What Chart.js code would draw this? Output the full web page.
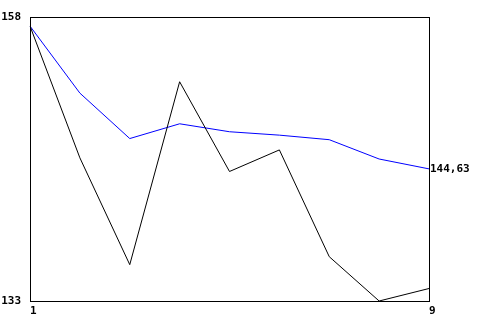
<!DOCTYPE html>
<html>
<head>
<meta charset="utf-8">
<script src="https://cdn.jsdelivr.net/npm/chart.js@4/dist/chart.umd.min.js"></script>
<style>
  html, body { margin: 0; padding: 0; background: #fff; }
  #wrap { width: 480px; height: 320px; }
</style>
</head>
<body>
<div id="wrap"><canvas id="chart" width="480" height="320"></canvas></div>
<script>
// data
const labels = ['1', '2', '3', '4', '5', '6', '7', '8', '9'];
const blackSeries = [157.2, 145.6, 136.2, 152.3, 144.4, 146.3, 136.9, 133.0, 134.1];
const blueSeries = [157.2, 151.3, 147.3, 148.6, 147.9, 147.6, 147.2, 145.5, 144.63];
const yMin = 133;
const yMax = 158;
const yTicks = [133, 158];
const lastValue = 144.63;
const lastValueLabel = '144,63';

const tickFont = { family: 'DejaVu Sans Mono', size: 11, weight: 'bold' };

// plain box around the plot area
const frame = {
  id: 'frame',
  afterDatasetsDraw(chart) {
    const a = chart.chartArea;
    const ctx = chart.ctx;
    ctx.save();
    ctx.strokeStyle = '#000';
    ctx.lineWidth = 1;
    ctx.strokeRect(Math.round(a.left) + 0.5, Math.round(a.top) + 0.5,
      Math.round(a.right - a.left), Math.round(a.bottom - a.top));
    ctx.restore();
  }
};

new Chart(document.getElementById('chart').getContext('2d'), {
  type: 'line',
  data: {
    labels: labels,
    datasets: [
      { data: blackSeries, borderColor: '#000', borderWidth: 1, pointRadius: 0, tension: 0, fill: false },
      { data: blueSeries, borderColor: '#0000ff', borderWidth: 1, pointRadius: 0, tension: 0, fill: false }
    ]
  },
  options: {
    responsive: false,
    animation: false,
    layout: { padding: { top: 17, left: 0, right: 0, bottom: 0 } },
    plugins: { legend: { display: false }, tooltip: { enabled: false } },
    scales: {
      x: {
        offset: false,
        grid: { display: false, drawTicks: false },
        border: { display: false },
        afterFit: (s) => { s.height = 19; },
        ticks: {
          autoSkip: false,
          maxRotation: 0,
          align: 'start',
          padding: 4,
          color: '#000',
          font: tickFont,
          callback: (v, i) => (i === 0 || i === labels.length - 1) ? labels[i] : ''
        }
      },
      y: {
        min: yMin,
        max: yMax,
        grid: { display: false, drawTicks: false },
        border: { display: false },
        afterFit: (s) => { s.width = 30; },
        afterBuildTicks: (s) => { s.ticks = yTicks.map(v => ({ value: v })); },
        ticks: { padding: 9, color: '#000', font: tickFont }
      },
      y2: {
        position: 'right',
        min: yMin,
        max: yMax,
        grid: { display: false, drawTicks: false },
        border: { display: false },
        afterFit: (s) => { s.width = 51; },
        afterBuildTicks: (s) => { s.ticks = [{ value: lastValue }]; },
        ticks: { padding: 1, color: '#000', font: tickFont, callback: () => lastValueLabel }
      }
    }
  },
  plugins: [frame]
});
</script>
</body>
</html>
